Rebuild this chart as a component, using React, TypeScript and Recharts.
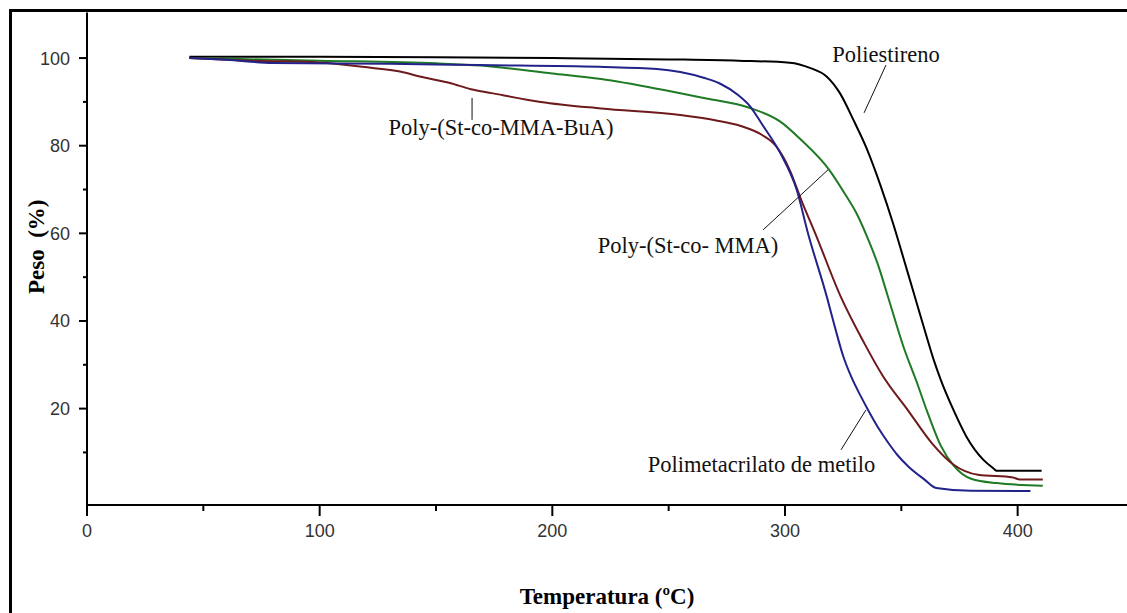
import React from "react";
import { LineChart, Line, XAxis, YAxis, ReferenceLine, ReferenceDot, Label } from "recharts";

// Poliestireno (black)
const psTemp = [44, 100, 150, 200, 250, 280, 302, 311, 318, 323.6, 329.4, 335, 341, 346.6, 350, 355, 360, 364, 367, 372.4, 378, 385.3, 389.5, 391, 410.3];
const psMass = [100.3, 100.3, 100.2, 100, 99.7, 99.4, 98.95, 97.7, 95.75, 92, 85.9, 79.5, 71, 62, 56, 47, 38, 31, 26.5, 19.7, 13.6, 8.3, 6.4, 5.8, 5.8];

// Polimetacrilato de metilo (blue)
const pmmaTemp = [44, 60, 80, 130, 169, 220, 245, 255, 265, 272, 280, 285, 290, 298, 305, 310, 318, 321.5, 325, 328.7, 332.5, 336, 340, 344, 348.5, 353, 360, 365, 380, 405.5];
const pmmaMass = [100, 99.6, 98.9, 98.7, 98.4, 98, 97.5, 96.8, 95.5, 94.2, 91.5, 89, 85, 78.3, 70, 59.8, 45.5, 38.5, 32, 27, 22.9, 19.4, 15.7, 12.5, 9.3, 6.8, 3.8, 1.9, 1.25, 1.2];

// Poly-(St-co-MMA) (green)
const stMmaTemp = [44, 100, 150, 169, 200, 221, 245, 264, 285, 298, 307, 319, 326, 331, 336, 340, 344, 351, 357, 361, 367, 372.5, 380, 391, 410.8];
const stMmaMass = [100, 99.4, 98.8, 98.3, 96.5, 95.2, 93, 91, 88.6, 85.5, 81.3, 74.5, 68.8, 64.3, 58.3, 52.8, 46, 34, 25.5, 19.5, 11.5, 7, 4, 3.0, 2.4];

// Poly-(St-co-MMA-BuA) (maroon)
const buaTemp = [44, 70, 100, 122, 135, 143, 156, 165, 174, 195, 221, 255, 270, 281, 290, 296, 302, 307, 313, 324, 334, 342, 353, 363, 372.5, 383, 398, 401, 410.8];
const buaMass = [100, 99.4, 99.0, 97.8, 96.9, 95.8, 94.3, 92.9, 92, 90, 88.5, 87, 85.8, 84.5, 82.5, 80, 74.5, 67.6, 60, 45.5, 35, 27.5, 19.5, 12.2, 7.2, 4.9, 4.3, 3.8, 3.8];

const xTicks = [0, 50, 100, 150, 200, 250, 300, 350, 400];
const xMajorStep = 100;
const yTicks = [10, 20, 30, 40, 50, 60, 70, 80, 90, 100];
const yMajorStep = 20;

// annotation texts and pointer segments (data coordinates)
const annotationTexts = ["Poliestireno", "Poly-(St-co-MMA-BuA)", "Poly-(St-co- MMA)", "Polimetacrilato de metilo"];
const annotationTextT = [343.4, 177.9, 258.3, 289.9];
const annotationTextW = [99.2, 82.4, 55.5, 5.5];
const pointerStart = [[343.4, 98.4], [165.5, 90.9], [290.6, 60.8], [324.1, 10.6]];
const pointerEnd = [[334.0, 87.5], [165.5, 85.9], [318.5, 74.5], [334.8, 19.7]];

const toData = (ts: number[], ws: number[]) => ts.map((t, i) => ({ t, w: ws[i] }));

const series = [
  { name: "Poliestireno", data: toData(psTemp, psMass), color: "#000000" },
  { name: "Poly-(St-co-MMA)", data: toData(stMmaTemp, stMmaMass), color: "#1f7a24" },
  { name: "Poly-(St-co-MMA-BuA)", data: toData(buaTemp, buaMass), color: "#6e1a1c" },
  { name: "Polimetacrilato de metilo", data: toData(pmmaTemp, pmmaMass), color: "#22228a" },
];

const tickFont = "'Liberation Sans', Arial, sans-serif";
const serifFont = "'Liberation Serif', 'Times New Roman', serif";

const XTick = (props: any) => {
  const { x, y, payload } = props;
  const major = payload.value % xMajorStep === 0;
  return (
    <g>
      <line x1={x} x2={x} y1={y} y2={y + (major ? 11 : 6)} stroke="#000" strokeWidth={2} />
      {major && (
        <text x={x} y={y + 32} textAnchor="middle" fontFamily={tickFont} fontSize={18} fill="#333">
          {payload.value}
        </text>
      )}
    </g>
  );
};

const YTick = (props: any) => {
  const { x, y, payload } = props;
  const major = payload.value % yMajorStep === 0;
  return (
    <g>
      <line x1={x - (major ? 8 : 4)} x2={x} y1={y} y2={y} stroke="#000" strokeWidth={2} />
      {major && (
        <text x={x - 17} y={y + 6.5} textAnchor="end" fontFamily={tickFont} fontSize={18} fill="#333">
          {payload.value}
        </text>
      )}
    </g>
  );
};

const XTitle = (props: any) => {
  const vb = props.viewBox;
  return (
    <text x={vb.x + vb.width / 2} y={vb.y + 99} textAnchor="middle" fontFamily={serifFont} fontWeight="bold" fontSize={23} fill="#000">
      Temperatura (ºC)
    </text>
  );
};

const YTitle = (props: any) => {
  const vb = props.viewBox;
  const cx = vb.x + 44;
  const cy = vb.y + vb.height / 2 - 12;
  return (
    <text x={cx} y={cy} transform={`rotate(-90 ${cx} ${cy})`} textAnchor="middle" fontFamily={serifFont} fontWeight="bold" fontSize={23} fill="#000" style={{ whiteSpace: "pre" }}>
      {"Peso  (%)"}
    </text>
  );
};

export default function App() {
  return (
    <div style={{ position: "fixed", left: 0, top: 0, width: 1127, height: 613, overflow: "hidden", background: "#fff" }}>
      <div style={{ position: "absolute", left: 9, top: 9, width: 3, height: 620, background: "#000" }} />
      <div style={{ position: "absolute", left: 9, top: 9, width: 1130, height: 3, background: "#000" }} />
      <div style={{ position: "absolute", left: 0, top: 0 }}>
        <LineChart width={1127} height={613} margin={{ top: 12.5, right: 0, bottom: 0, left: 0 }}>
          <XAxis
            type="number"
            dataKey="t"
            domain={[0, 447]}
            allowDataOverflow
            ticks={xTicks}
            interval={0}
            tickSize={0}
            tickMargin={0}
            tick={<XTick />}
            tickLine={false}
            axisLine={{ stroke: "#000", strokeWidth: 2 }}
            height={108}
          >
            <Label content={<XTitle />} />
          </XAxis>
          <YAxis
            type="number"
            dataKey="w"
            domain={[-2, 110.4]}
            allowDataOverflow
            ticks={yTicks}
            interval={0}
            tickSize={0}
            tickMargin={0}
            tick={<YTick />}
            tickLine={false}
            axisLine={{ stroke: "#000", strokeWidth: 2 }}
            width={87}
          >
            <Label content={<YTitle />} />
          </YAxis>
          {series.map((s) => (
            <Line
              key={s.name}
              data={s.data}
              dataKey="w"
              type="monotone"
              stroke={s.color}
              strokeWidth={2}
              dot={false}
              activeDot={false}
              isAnimationActive={false}
            />
          ))}
          {annotationTexts.map((txt, i) => (
            <ReferenceLine
              key={"pl" + i}
              segment={[
                { x: pointerStart[i][0], y: pointerStart[i][1] },
                { x: pointerEnd[i][0], y: pointerEnd[i][1] },
              ]}
              stroke="#111"
              strokeWidth={1}
              ifOverflow="visible"
            />
          ))}
          {annotationTexts.map((txt, i) => (
            <ReferenceDot
              key={"pt" + i}
              x={annotationTextT[i]}
              y={annotationTextW[i]}
              r={0}
              ifOverflow="visible"
              shape={(p: any) => (
                <text x={p.cx} y={p.cy} textAnchor="middle" fontFamily={serifFont} fontSize={22.5} fill="#111" style={{ whiteSpace: "pre" }}>
                  {txt}
                </text>
              )}
            />
          ))}
        </LineChart>
      </div>
    </div>
  );
}
